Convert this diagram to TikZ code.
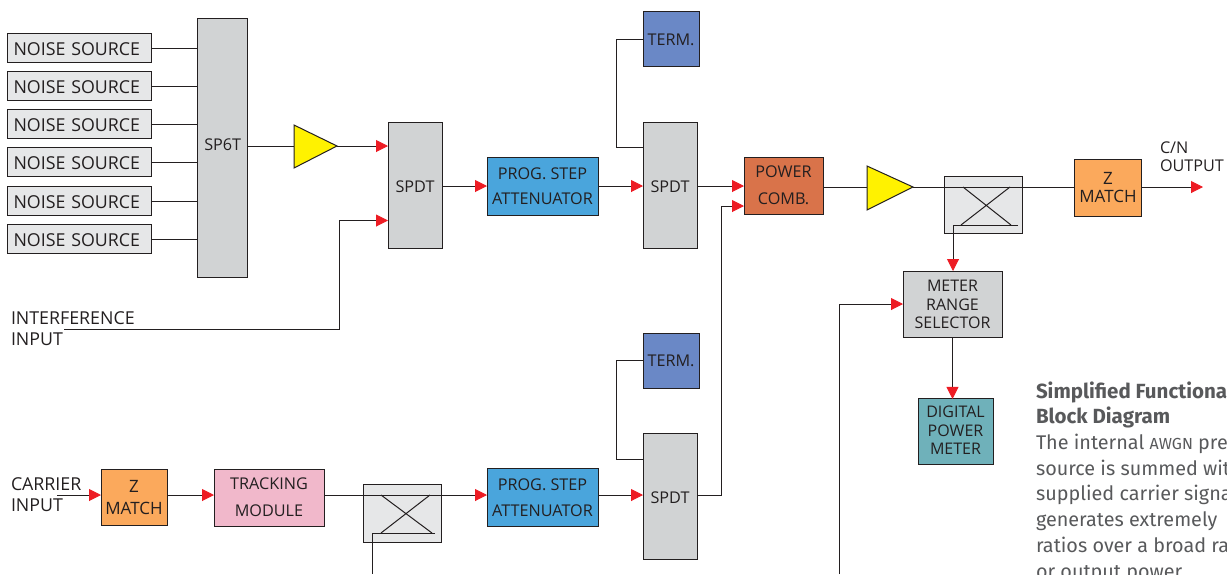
\documentclass[tikz,border=0pt]{standalone}
\usepackage{fontspec}
\setmainfont{Open Sans}
\newfontfamily\bodyfont{Fira Sans}
\usetikzlibrary{arrows.meta}
\definecolor{grayfill}{HTML}{D1D3D4}
\definecolor{lightfill}{HTML}{E6E7E8}
\definecolor{ampfill}{HTML}{FFF200}
\definecolor{orangefill}{HTML}{FBA95C}
\definecolor{pinkfill}{HTML}{F1B8CB}
\definecolor{bluefill}{HTML}{4AA5DC}
\definecolor{termfill}{HTML}{6A88C6}
\definecolor{combfill}{HTML}{D9734A}
\definecolor{tealfill}{HTML}{6FB1BA}
\definecolor{tipred}{HTML}{ED1C24}
\definecolor{ink}{HTML}{231F20}
\definecolor{bodyink}{HTML}{58595B}
\tikzset{
  blk/.style={draw=ink,line width=1pt,inner sep=0pt,outer sep=0pt,align=center,text=ink,
    font=\fontsize{16.2}{18}\selectfont},
  noise/.style={draw=ink,line width=1pt,outer sep=0pt,inner ysep=0pt,inner xsep=6pt,text width=132pt,align=left,text=ink,
    font=\fontsize{17.8}{18}\selectfont,fill=lightfill,minimum width=144pt,minimum height=28.5pt,
    text height=14pt,text depth=0pt},
  sw/.style={blk,fill=grayfill,minimum width=54pt,minimum height=126pt,text height=15pt,text depth=0pt},
  atten/.style={blk,fill=bluefill,minimum width=111pt,minimum height=58pt,
    font=\fontsize{16.2}{25.5}\selectfont},
  term/.style={blk,fill=termfill,minimum width=56pt,minimum height=55pt},
  zmatch/.style={blk,fill=orangefill,minimum width=67pt,minimum height=56.5pt},
  coupler/.style={blk,fill=lightfill,minimum width=78pt,minimum height=57.5pt},
  lbl/.style={inner sep=0pt,outer sep=0pt,align=left,text=ink,anchor=base west,
    font=\fontsize{17.8}{21}\selectfont},
  wire/.style={draw=ink,line width=1pt},
  feed/.style={wire,-{Triangle[length=12pt,width=12pt,color=tipred]}},
  amp/.style={draw=ink,line width=1pt,fill=ampfill,line join=miter},
}
\begin{document}
\begin{tikzpicture}[x=1pt,y=-1pt]
\useasboundingbox (0,0) rectangle (1227,574);
\clip (0,0) rectangle (1227,574);
% noise sources
\node[noise] (ns1) at (79.5,48) {NOISE SOURCE};
\node[noise] (ns2) at (79.5,86) {NOISE SOURCE};
\node[noise] (ns3) at (79.5,124) {NOISE SOURCE};
\node[noise] (ns4) at (79.5,162) {NOISE SOURCE};
\node[noise] (ns5) at (79.5,201) {NOISE SOURCE};
\node[noise] (ns6) at (79.5,239) {NOISE SOURCE};
\node[blk,fill=grayfill,minimum width=50.5pt,minimum height=259.5pt,text height=5.2pt,text depth=0pt] (sp6t) at (222.7,148.2) {SP6T};
\node[sw] (spdta) at (415,185.3) {SPDT};
\node[sw] (spdtb) at (670,185) {SPDT};
\node[sw,text height=14.5pt] (spdtc) at (670,496) {SPDT};
\node[atten] (prga) at (542.5,186) {PROG. STEP\\ATTENUATOR};
\node[atten] (prgb) at (542.5,497.5) {PROG. STEP\\ATTENUATOR};
\node[term,text height=12.6pt,text depth=0pt] (terma) at (671,39) {TERM.};
\node[term] (termb) at (671,360.5) {TERM.};
\node[blk,fill=combfill,minimum width=79pt,minimum height=57pt,font=\fontsize{16.2}{27}\selectfont] (comb) at (783.5,185.5) {POWER\\COMB.};
\node[zmatch,font=\fontsize{17}{18}\selectfont] (zout) at (1108,187.8) {Z\\MATCH};
\node[zmatch,minimum width=66pt,font=\fontsize{17}{22}\selectfont] (zin) at (134,497.5) {Z\\MATCH};
\node[blk,fill=pinkfill,minimum width=110pt,minimum height=57pt,font=\fontsize{16.2}{27}\selectfont] (track) at (269,497.5) {TRACKING\\MODULE};
\node[coupler] (cpa) at (983,205.2) {};
\node[coupler] (cpb) at (402.5,513.5) {};
\node[blk,fill=grayfill,minimum width=99pt,minimum height=66pt,font=\fontsize{16}{18.5}\selectfont,text height=49.4pt,text depth=0pt] (mrs) at (952.5,304) {METER\\RANGE\\SELECTOR};
\node[blk,fill=tealfill,minimum width=75pt,minimum height=65.5pt,font=\fontsize{16}{18.5}\selectfont,text height=46pt,text depth=0pt] (dpm) at (955.5,431.7) {DIGITAL\\POWER\\METER};
% free labels
\node[lbl] (intf) at (11,345) {INTERFERENCE\\INPUT};
\node[lbl] (carr) at (11,511) {CARRIER\\INPUT};
\node[lbl,font=\fontsize{16.2}{17.5}\selectfont] (cn) at (1160,171) {C/N\\OUTPUT};
\node[inner sep=0pt,outer sep=0pt,anchor=base west,align=left,text=bodyink,
  font=\bodyfont\fontsize{19.8}{25.7}\selectfont] (body) at (1036,578)
 {{\fontsize{20.5}{25.7}\selectfont\textbf{Simplified Functional}}\\{\fontsize{20.5}{25.7}\selectfont\textbf{Block Diagram}}\\The internal {\fontsize{16}{16}\selectfont AWGN} pre\\source is summed wit\\supplied carrier signa\\generates extremely\\ratios over a broad ra\\or output power};
% amplifiers
\coordinate (ampaw) at (294,146);
\coordinate (ampae) at (337,146);
\coordinate (ampbw) at (867,187);
\coordinate (ampbe) at (913,187);
\draw[amp] (294,125) -- (ampae) -- (294,168) -- cycle;
\draw[amp] (867,166) -- (ampbe) -- (867,210) -- cycle;
% plain wires
\foreach \n in {ns1,ns2,ns3,ns4,ns5,ns6} \draw[wire] (\n.east) -- (sp6t.west |- \n.east);
\draw[wire] (sp6t.east |- ampaw) -- (ampaw);
\draw[wire] (comb.east |- ampbw) -- (ampbw);
\draw[wire] (ampbe) -- (zout.west |- ampbe);
% arrows
\draw[feed] (ampae) -- (spdta.west |- ampae);
\coordinate (intfs) at (64,329);
\draw[feed] (intfs) -- (339,329) -- (339,220.5) -- (spdta.west |- 0,220.5);
\draw[feed] (spdta.east |- 0,186) -- (prga.west |- 0,186);
\draw[feed] (prga.east |- 0,186) -- (spdtb.west |- 0,186);
\draw[wire] (terma.west) -- (616,39) -- (616,147) -- (spdtb.west |- 0,147);
\draw[feed] (spdtb.east |- 0,186) -- (comb.west |- 0,186);
\draw[feed] (spdtc.east |- 0,495) -- (721,495) -- (721,206) -- (comb.west |- 0,206);
\draw[feed] (zout.east |- 0,187) -- (1203,187);
\coordinate (carrs) at (57,495);
\draw[feed] (carrs) -- (zin.west |- carrs);
\draw[feed] (zin.east |- carrs) -- (track.west |- carrs);
\draw[feed] (track.east |- carrs) -- (prgb.west |- carrs);
\draw[feed] (prgb.east |- carrs) -- (spdtc.west |- carrs);
\draw[wire] (termb.west) -- (616,360.5) -- (616,459) -- (spdtc.west |- 0,459);
% couplers
\draw[wire] (963,187) -- (1011,225) (1010,187) -- (961,225);
\draw[feed] (1018,225) -- (953,225) -- (mrs.north -| 953,0);
\draw[wire] (381,495) -- (432,533) (430,495) -- (381,533);
\draw[wire] (435,533) -- (372,533) -- (372,574);
\draw[feed] (mrs.south) -- (mrs.south |- dpm.north);
\draw[feed] (839,574) -- (839,304) -- (mrs.west);
\end{tikzpicture}
\end{document}
